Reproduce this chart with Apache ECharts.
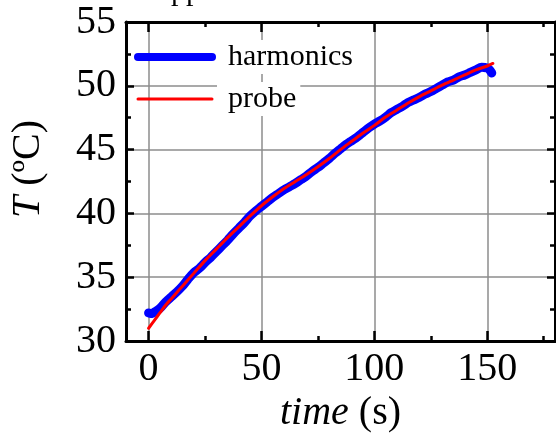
<!DOCTYPE html>
<html><head><meta charset="utf-8">
<script src="https://cdn.jsdelivr.net/npm/echarts@6/dist/echarts.min.js"></script>
<style>html,body{margin:0;padding:0;background:#fff}#c{width:556px;height:438px}</style>
</head><body><div id="c"></div>
<script>
// ---- data ----
const harmonicsTime = [0,1,2,2.5,5,7.5,10,12.5,15,17.5,20,22.5,25,27.5,30,32.5,35,37.5,40,42.5,45,47.5,50,52.5,55,57.5,60,62.5,65,67.5,70,72.5,75,77.5,80,82.5,85,87.5,90,92.5,95,97.5,100,102.5,105,107.5,110,112.5,115,117.5,120,122.5,125,127.5,130,132.5,135,137.5,140,142.5,145,147.5,150,151,152];
const harmonicsTemp = [32.2,32.15,32.2,32.25,32.55,33.05,33.45,33.85,34.3,34.85,35.35,35.7,36.15,36.55,37.0,37.45,37.9,38.4,38.85,39.3,39.8,40.2,40.55,40.9,41.25,41.55,41.85,42.1,42.35,42.65,42.95,43.3,43.6,43.95,44.3,44.7,45.05,45.4,45.7,46.0,46.35,46.7,47.0,47.25,47.55,47.9,48.15,48.4,48.7,48.9,49.1,49.35,49.55,49.8,50.05,50.3,50.45,50.7,50.85,51.05,51.25,51.45,51.4,51.25,51.0];
const probeTime = [0,2.5,5,7.5,10,12.5,15,17.5,20,25,30,35,40,45,50,55,60,65,70,75,80,85,90,95,100,105,110,115,120,125,130,135,140,145,150,152.5];
const probeTemp = [31.0,31.6,32.2,32.8,33.3,33.8,34.3,34.8,35.3,36.3,37.2,38.1,38.95,39.8,40.6,41.3,41.95,42.5,43.05,43.65,44.3,45.0,45.65,46.3,46.9,47.55,48.1,48.65,49.15,49.6,50.05,50.45,50.85,51.25,51.55,51.75];
const seriesNames = ['harmonics','probe'];
const xMajorTicks = [0,50,100,150];
const xMinorTicks = [25,75,125,175];
const xRange = [-10,180];
const yRange = [30,55];
const yInterval = 5;
const xName = 'time';
const xUnit = '(s)';
const yName = 'T';
const yUnit = '(ºC)';
const topClipText = 'pp';

const F = '"Liberation Serif","Times New Roman",serif';
const zip = (a,b) => a.map((v,i)=>[v,b[i]]);

function xAx(pos, ticks, len, opts) {
  return Object.assign({
    type:'value', position:pos, min:xRange[0], max:xRange[1], splitNumber:4,
    axisLine:{show:true, onZero:false, lineStyle:{color:'#000', width:3}},
    axisTick:{show:true, inside:true, length:len, customValues:ticks, lineStyle:{color:'#000', width:2.5}},
    axisLabel:{show:false},
    splitLine:{show:false}
  }, opts||{});
}
function yAx(pos, opts) {
  return Object.assign({
    type:'value', position:pos, min:yRange[0], max:yRange[1], interval:yInterval,
    axisLine:{show:true, onZero:false, lineStyle:{color:'#000', width:3}},
    axisTick:{show:true, inside:true, length:8, lineStyle:{color:'#000', width:2.5}},
    minorTick:{show:true, splitNumber:2, length:5, lineStyle:{color:'#000', width:2.5}},
    axisLabel:{show:false},
    splitLine:{show:false}
  }, opts||{});
}

const chart = echarts.init(document.getElementById('c'), null, {renderer:'canvas'});
chart.setOption({
  animation:false,
  backgroundColor:'#fff',
  grid:{left:126, right:1, top:22, bottom:97, containLabel:false, outerBoundsMode:'none'},
  graphic:[{type:'text', x:171, y:-23, z:100, style:{text:topClipText, font:'30px '+F, fill:'#000'}}],
  legend:{
    data:[
      {name:seriesNames[0], lineStyle:{width:8, color:'#0000ff', cap:'round'}, itemStyle:{opacity:0}},
      {name:seriesNames[1], lineStyle:{width:3, color:'#ff0000'}, itemStyle:{opacity:0}}
    ],
    orient:'vertical', left:129, top:35, itemWidth:74, itemHeight:14, itemGap:8,
    textStyle:{fontFamily:F, fontSize:30, color:'#000', backgroundColor:'#fff', padding:[2,4,2,11], lineHeight:30}
  },
  xAxis:[
    xAx('bottom', xMajorTicks, 10, {
      axisLabel:{show:true, showMinLabel:false, showMaxLabel:false, hideOverlap:false,
        formatter:(v)=> xMajorTicks.indexOf(v) >= 0 ? String(v) : '',
        fontFamily:F, fontSize:40, color:'#000', margin:8, align:'center'},
      splitLine:{show:true, lineStyle:{color:'#8c8c8c', width:1.5}},
      name: '{i|'+xName+' }{n|'+xUnit+'}', nameLocation:'middle', nameGap:52,
      nameTextStyle:{rich:{i:{fontFamily:F, fontSize:40, fontStyle:'italic', color:'#000'}, n:{fontFamily:F, fontSize:40, color:'#000'}}}
    }),
    xAx('bottom', xMinorTicks, 5, {axisLine:{show:false}}),
    xAx('top', xMajorTicks, 10),
    xAx('top', xMinorTicks, 5, {axisLine:{show:false}})
  ],
  yAxis:[
    yAx('left', {
      axisLabel:{show:true, fontFamily:F, fontSize:40, color:'#000', margin:10},
      splitLine:{show:true, lineStyle:{color:'#8c8c8c', width:1.5}},
      name:'{i|'+yName+' }{n|'+yUnit+'}', nameLocation:'middle', nameGap:78,
      nameTextStyle:{padding:[0,0,0,25], rich:{i:{fontFamily:F, fontSize:40, fontStyle:'italic', color:'#000'}, n:{fontFamily:F, fontSize:40, color:'#000'}}}
    }),
    yAx('right')
  ],
  series:[
    {name:seriesNames[0], type:'line', xAxisIndex:0, yAxisIndex:0, data:zip(harmonicsTime, harmonicsTemp),
     symbol:'none', showSymbol:false, smooth:0.3, z:2,
     lineStyle:{color:'#0000ff', width:9, cap:'round', join:'round'}, itemStyle:{color:'#0000ff'}},
    {name:seriesNames[1], type:'line', xAxisIndex:0, yAxisIndex:0, data:zip(probeTime, probeTemp),
     symbol:'none', showSymbol:false, smooth:0.3, z:3,
     lineStyle:{color:'#ff0000', width:3, cap:'round', join:'round'}, itemStyle:{color:'#ff0000'}}
  ]
});
</script></body></html>
